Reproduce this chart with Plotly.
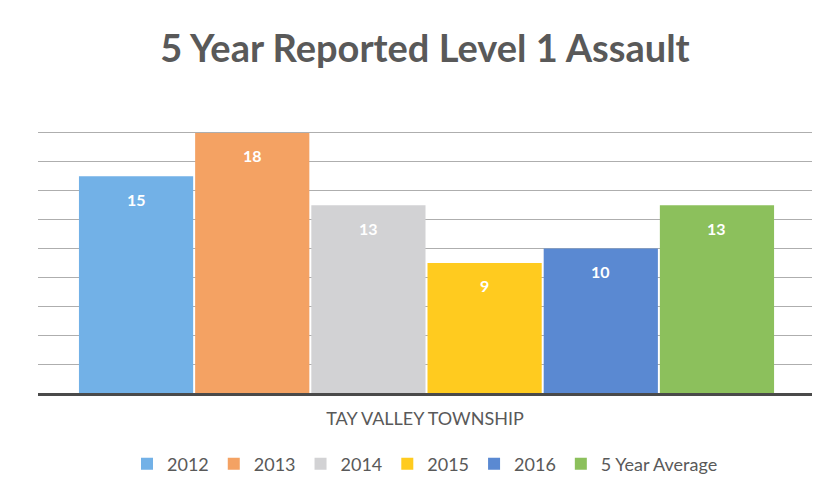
import plotly.graph_objects as go

categories = ["2012", "2013", "2014", "2015", "2016", "5 Year Average"]
values = [15, 18, 13, 9, 10, 13]
colors = ["#72B1E7", "#F4A263", "#D2D2D4", "#FFCB1F", "#5A89D2", "#8CC05C"]
group_label = "TAY VALLEY TOWNSHIP"

# page body adds an 8px offset; figure size compensates
W, H = 825, 485

fig = go.Figure()
for i, (cat, val, col) in enumerate(zip(categories, values, colors)):
    fig.add_trace(go.Bar(x=[cat], y=[val], name=cat, marker=dict(color=col, line=dict(width=0)),
                         showlegend=True))
    fig.add_annotation(x=i, y=val, text=f"<b>{val}</b>", showarrow=False, yshift=-23,
                       font=dict(family="Lato", size=16, color="#FFFFFF"))

fig.update_layout(
    width=W, height=H,
    paper_bgcolor="#FFFFFF", plot_bgcolor="#FFFFFF",
    margin=dict(l=30, r=21, t=96, b=100, autoexpand=False),
    barmode="overlay", bargap=0.017,
    title=dict(text="<b>5 Year Reported Level 1 Assault</b>", x=(425 - 8) / W, xanchor="center",
               y=1 - 41 / H, yanchor="middle",
               font=dict(family="Lato", size=38, color="#595959")),
    xaxis=dict(type="category", range=[-0.844, 5.818], showticklabels=False, showgrid=False,
               showline=True, linecolor="#4A4A4A", linewidth=2.5, zeroline=False, automargin=False,
               title=dict(text=group_label, font=dict(family="Lato", size=18, color="#595959"),
                          standoff=18)),
    yaxis=dict(range=[0, 20], dtick=2, showticklabels=False, showgrid=True, automargin=False,
               gridcolor="#AEAEAE", gridwidth=1, zeroline=False, showline=False),
    legend=dict(orientation="h", x=0.5, xanchor="center", yref="container",
                y=1 - 456 / H, yanchor="middle",
                font=dict(family="Lato", size=18, color="#595959"), traceorder="normal",
                itemclick=False),
    showlegend=True,
)

fig.write_html("out.html")
